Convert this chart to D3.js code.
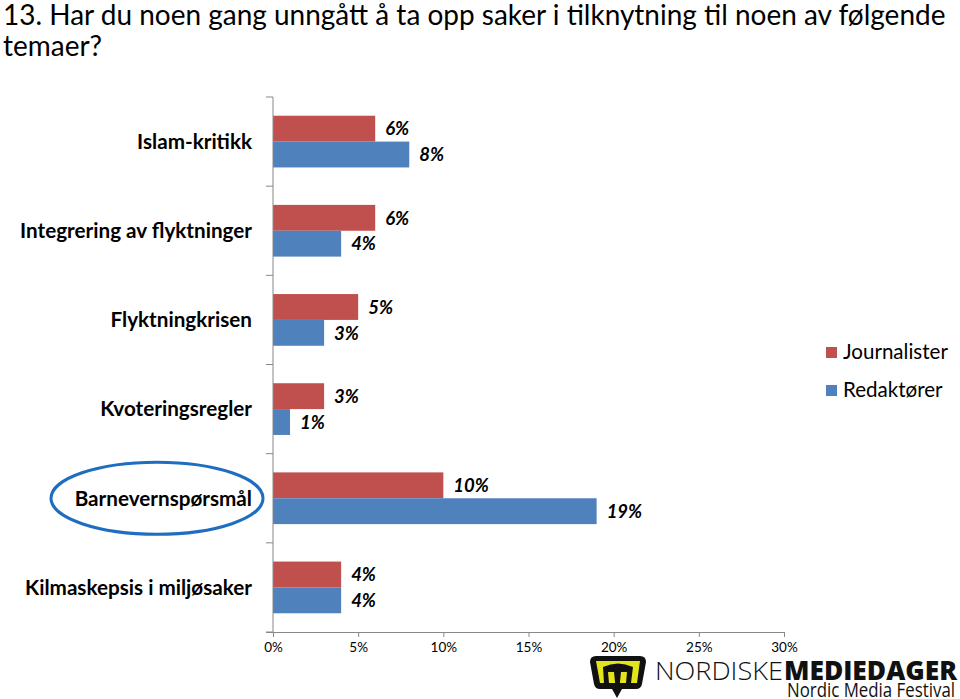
<!DOCTYPE html>
<html><head><meta charset="utf-8">
<script src="https://cdn.jsdelivr.net/npm/d3@7"></script>
<style>body{margin:0;background:#fff}svg{display:block}</style>
</head><body>
<script>
const categories = ["Islam-kritikk","Integrering av flyktninger","Flyktningkrisen","Kvoteringsregler","Barnevernspørsmål","Kilmaskepsis i miljøsaker"];
const journalister = [6,6,5,3,10,4];
const redaktorer = [8,4,3,1,19,4];
const seriesNames = ["Journalister","Redaktører"];
const tickValues = [0,5,10,15,20,25,30];
const colors = ["#C0504D","#4F81BD"];

const W=960,H=699;
const svg=d3.select("body").append("svg").attr("width",W).attr("height",H);
const x=d3.scaleLinear().domain([0,30]).range([273,784]);
const y=d3.scaleBand().domain(categories).range([97,632]).paddingInner(0.42).paddingOuter(0.21);
const ySub=d3.scaleBand().domain(seriesNames).range([0,y.bandwidth()]);
const FONT="Lato, Carlito, sans-serif";

function fit(sel,target){
  const fs=parseFloat(sel.attr("font-size"));
  const w=sel.node().getComputedTextLength();
  return fs*target/w;
}

// title
const t1=svg.append("text").attr("x",3).attr("y",25).attr("font-family",FONT).attr("font-size",27).attr("fill","#000")
 .text("13. Har du noen gang unngått å ta opp saker i tilknytning til noen av følgende");
const tfs=fit(t1,943); t1.attr("font-size",tfs);
svg.append("text").attr("x",3).attr("y",56).attr("font-family",FONT).attr("font-size",tfs).attr("fill","#000")
 .text("temaer?");

// bars
const data=[journalister,redaktorer];
const lblSize=18.5;
data.forEach((vals,si)=>{
  const g=svg.append("g");
  g.selectAll("rect").data(vals).join("rect")
   .attr("x",x(0)).attr("y",(d,i)=>y(categories[i])+ySub(seriesNames[si]))
   .attr("width",d=>x(d)-x(0)).attr("height",ySub.bandwidth()).attr("fill",colors[si]);
  g.selectAll("text").data(vals).join("text")
   .attr("x",d=>x(d)+10).attr("y",(d,i)=>y(categories[i])+ySub(seriesNames[si])+ySub.bandwidth()/2+2)
   .attr("dominant-baseline","middle").attr("font-family",FONT).attr("font-weight","bold").attr("font-style","italic")
   .attr("font-size",lblSize).attr("fill","#000").text(d=>d+"%");
});

// y axis
const gy=svg.append("g").attr("transform",`translate(${x(0)},0)`);
gy.append("line").attr("x1",0).attr("x2",0).attr("y1",97).attr("y2",632).attr("stroke","#888").attr("stroke-width",1);
const step=y.step();
d3.range(categories.length+1).forEach(i=>{
  gy.append("line").attr("x1",-7).attr("x2",0).attr("y1",97+i*step).attr("y2",97+i*step).attr("stroke","#888");
});
const cl=svg.append("g").selectAll("text").data(categories).join("text")
 .attr("x",252).attr("y",d=>y(d)+y.bandwidth()/2+2).attr("text-anchor","end").attr("dominant-baseline","middle")
 .attr("font-family",FONT).attr("font-weight","bold").attr("font-size",20).attr("fill","#000").text(d=>d);
const cfs=fit(cl.filter((d,i)=>i===1),232); cl.attr("font-size",cfs);

// x axis
const gx=svg.append("g").attr("transform","translate(0,632)")
 .call(d3.axisBottom(x).tickValues(tickValues).tickSize(5).tickSizeOuter(0).tickPadding(5).tickFormat(d=>d+"%"));
gx.select(".domain").attr("stroke","#888").attr("d","M266,0.5H784");
gx.selectAll(".tick line").attr("stroke","#888");
gx.selectAll(".tick text").attr("font-family",FONT).attr("font-size",13.5).attr("fill","#000");

// ellipse highlight
svg.append("ellipse").attr("cx",157).attr("cy",y(categories[4])+y.bandwidth()/2).attr("rx",106).attr("ry",36)
 .attr("fill","none").attr("stroke","#1E6EBF").attr("stroke-width",3);

// legend
const lg=svg.append("g");
const legTexts=[];
seriesNames.forEach((s,i)=>{
  lg.append("rect").attr("x",826).attr("y",347+i*38).attr("width",11).attr("height",11).attr("fill",colors[i]);
  legTexts.push(lg.append("text").attr("x",843).attr("y",354+i*38).attr("dominant-baseline","middle").attr("font-family",FONT)
   .attr("font-size",20).attr("fill","#000").text(s));
});
const lfs=fit(legTexts[0],105); legTexts.forEach(t=>t.attr("font-size",lfs));

// logo
const logo=svg.append("g");
logo.append("path").attr("d","M590,662 Q590,656 596,656 L640,656 Q646,656 646,662 L642,684 Q641,689 636,689 L622,689 L617,698 L612,689 L600,689 Q595,689 594,684 Z")
 .attr("fill","#111");
logo.append("path").attr("d","M596,661 L640,661 L637,683 L600,683 Z").attr("fill","#E4E41C");
logo.append("path").attr("d","M603,667 Q618,660 633,667 L631,683 L626,683 L627,672 L621,672 L619,692 L616,692 L614,672 L608,672 L609,683 L604,683 Z").attr("fill","#111");
logo.append("text").attr("x",655).attr("y",680).attr("font-family","Open Sans, sans-serif").attr("font-size",26).attr("font-weight","300")
 .attr("fill","#111").attr("textLength",128).attr("lengthAdjust","spacingAndGlyphs").text("NORDISKE");
logo.append("text").attr("x",784).attr("y",680).attr("font-family","Open Sans, sans-serif").attr("font-size",26).attr("font-weight","800")
 .attr("fill","#111").attr("textLength",173).attr("lengthAdjust","spacingAndGlyphs").text("MEDIEDAGER");
logo.append("text").attr("x",787).attr("y",697).attr("font-family","Open Sans, sans-serif").attr("font-size",19.5).attr("fill","#111")
 .attr("textLength",168).attr("lengthAdjust","spacingAndGlyphs").text("Nordic Media Festival");
</script>
</body></html>
